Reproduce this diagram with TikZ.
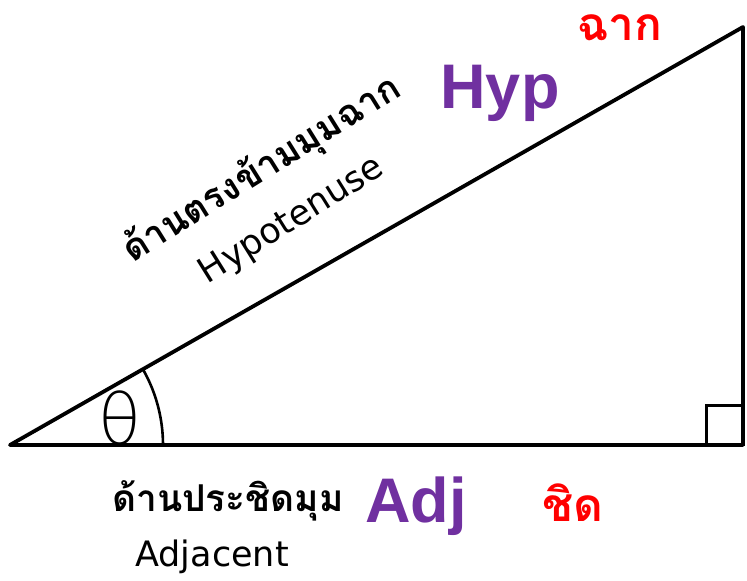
\documentclass[tikz,border=0pt]{standalone}
\usepackage{fontspec}
\setmainfont{Liberation Sans}
\newfontfamily\thaifont[Script=Thai]{Loma}
\newfontfamily\labelfont{DejaVu Sans}
\newfontfamily\thinfont{DejaVuSans-ExtraLight.ttf}
\usetikzlibrary{calc,positioning}

\begin{document}
\begin{tikzpicture}[x=1pt, y=1pt]
  \definecolor{ink}{HTML}{000000}
  \definecolor{purple}{HTML}{7030A0}
  \definecolor{red}{HTML}{FF0000}
  \tikzset{
    side/.style={line width=3.8pt, line join=round, line cap=round, draw=ink},
    thaitxt/.style={font=\thaifont\bfseries\fontsize{37}{40}\selectfont, text=ink, inner sep=0pt},
    engtxt/.style={font=\labelfont\fontsize{35}{40}\selectfont, text=ink, inner sep=0pt},
    short/.style={font=\bfseries\fontsize{63}{70}\selectfont, text=purple, inner sep=0pt},
    hint/.style={font=\thaifont\bfseries\fontsize{46}{50}\selectfont, text=red, inner sep=0pt}
  }
  \useasboundingbox[fill=white] (0,0) rectangle (747,581);

  \coordinate (a) at (10,136);
  \coordinate (b) at (743,136);
  \coordinate (c) at (743,554);
  \draw[side] (a) -- (b) -- (c) -- cycle;

  % right angle and angle mark
  \draw[line width=3pt] ($(b)+(-37,0)$) rectangle ($(b)+(0,39)$);
  \draw[line width=2.6pt] ($(a)+(153,0)$) arc[start angle=0, end angle=29.6, radius=153];
  \node[font=\thinfont\fontsize{70}{72}\selectfont, inner sep=0pt] (theta) at (120,163) {θ};

  % hypotenuse
  \node[thaitxt, rotate=32] (hypth) at (262,411) {ด้านตรงข้ามมุมฉาก};
  \node[engtxt, rotate=32] (hypen) at (292,360) {Hypotenuse};
  \node[short] (hyp) at (500,488) {Hyp};
  \node[hint] (far) at (620,553) {ฉาก};

  % adjacent
  \node[thaitxt] (adjth) at (228,80) {ด้านประชิดมุม};
  \node[engtxt, anchor=base] (adjen) at (212,14) {Adjacent};
  \node[short] (adj) at (416,75) {Adj};
  \node[hint] (near) at (573,78) {ชิด};
\end{tikzpicture}
\end{document}
